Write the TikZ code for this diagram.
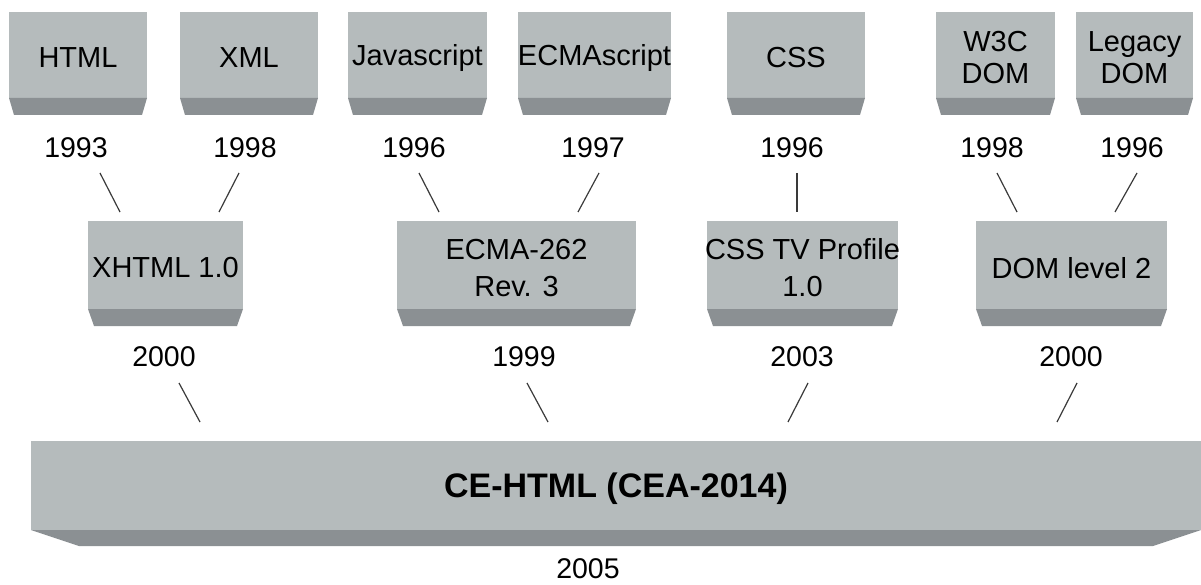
\documentclass[tikz,border=0pt]{standalone}
\usepackage{fontspec}
\setmainfont{Liberation Sans}

\definecolor{boxgray}{HTML}{B5BBBC}
\definecolor{bevelgray}{HTML}{8B9093}
\definecolor{linkgray}{HTML}{3A3A3A}

\tikzset{
  boxtext/.style={align=center, inner sep=0pt, font=\fontsize{29}{32}\selectfont},
  year/.style={inner sep=0pt, font=\fontsize{28.5}{32}\selectfont},
  link/.style={linkgray, line width=1.2pt},
}

% box with bevelled foot: name, x left, x right, top, bevel, bottom, inset, text
\newcommand{\techbox}[8]{%
  \fill[boxgray] (#2,#4) rectangle (#3,#5);
  \fill[bevelgray] (#2,#5) -- (#3,#5) -- (#3-#7,#6) -- (#2+#7,#6) -- cycle;
  \node[boxtext] (#1) at ({(#2+#3)/2},{(#4+#5)/2+3}) {#8};
}

\begin{document}
\begin{tikzpicture}[x=1pt, y=-1pt]
    \useasboundingbox (0,0) rectangle (1201,585);

    % Tecnologias de base
    \techbox{html}{9}{147}{12}{98}{115}{5}{HTML}
    \techbox{xml}{180}{318}{12}{98}{115}{5}{XML}
    \techbox{js}{348}{487}{12}{98}{115}{5}{Javascript}
    \techbox{ecma}{518}{671}{12}{98}{115}{5}{ECMAscript}
    \techbox{css}{727}{865}{12}{98}{115}{5}{CSS}
    \techbox{wdom}{936}{1055}{12}{98}{115}{5}{W3C\\DOM}
    \techbox{ldom}{1076}{1193}{12}{98}{115}{5}{Legacy\\DOM}

    % Anos das tecnologias de base
    \node[year] (yhtml) at (76,148) {1993};
    \node[year] (yxml) at (245,148) {1998};
    \node[year] (yjs) at (414,148) {1996};
    \node[year] (yecma) at (593,148) {1997};
    \node[year] (ycss) at (792,148) {1996};
    \node[year] (ywdom) at (992,148) {1998};
    \node[year] (yldom) at (1132,148) {1996};

    % Ligacoes para o nivel intermedio
    \foreach \n/\ax/\bx in {1/100/120, 2/239/219, 3/419/439, 4/599/578,
                            5/797/797, 6/997/1017, 7/1137/1115} {
      \coordinate (up\n) at (\ax,173);
      \coordinate (dn\n) at (\bx,212);
      \draw[link] (up\n) -- (dn\n);
    }

    % Nivel intermedio
    \techbox{xhtml}{88}{243}{221}{309}{326}{6}{XHTML 1.0}
    \techbox{ecmarev}{397}{636}{221}{309}{326}{6}{ECMA-262\\[5pt]Rev. 3}
    \techbox{csstv}{707}{898}{221}{309}{326}{6}{CSS TV Profile\\[5pt]1.0}
    \techbox{domtwo}{976}{1167}{221}{309}{326}{6}{DOM level 2}

    % Anos do nivel intermedio
    \node[year] (yxhtml) at (164,357) {2000};
    \node[year] (yecmarev) at (524,357) {1999};
    \node[year] (ycsstv) at (802,357) {2003};
    \node[year] (ydomtwo) at (1071,357) {2000};

    % Ligacoes para o CE-HTML
    \foreach \n/\ax/\bx in {1/179/200, 2/527/548, 3/808/788, 4/1077/1057} {
      \coordinate (top\n) at (\ax,383);
      \coordinate (low\n) at (\bx,422);
      \draw[link] (top\n) -- (low\n);
    }

    % CE-HTML
    \techbox{cehtml}{31}{1201}{441}{530}{546}{48}{\fontsize{34}{38}\selectfont\bfseries CE-HTML (CEA-2014)}
    \node[year] (ycehtml) at (588,569) {2005};

\end{tikzpicture}
\end{document}
